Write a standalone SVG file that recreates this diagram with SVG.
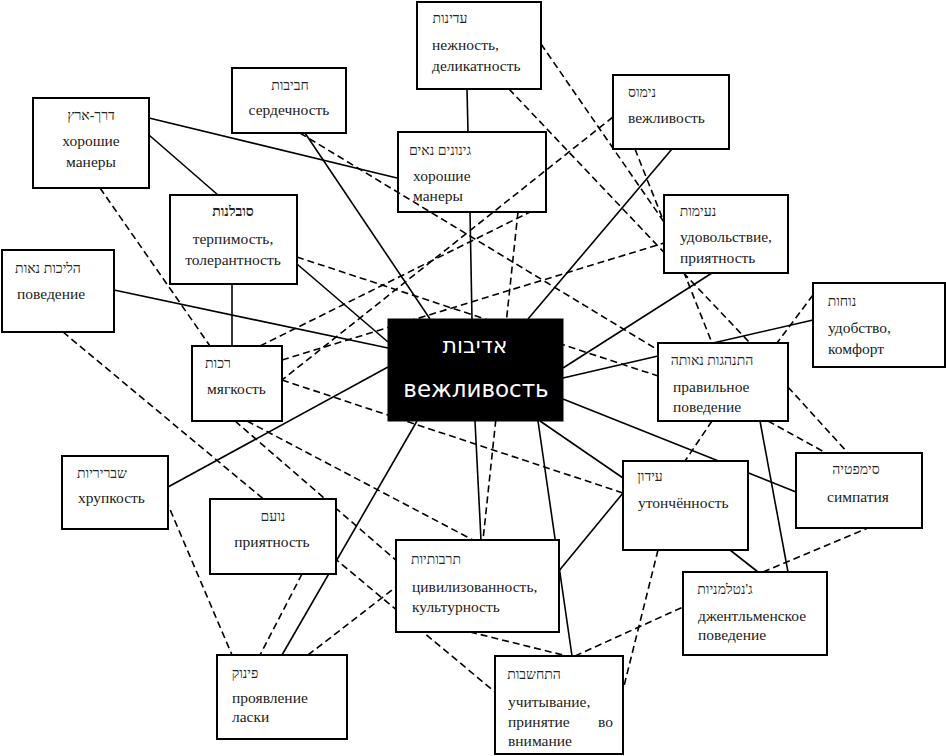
<svg xmlns="http://www.w3.org/2000/svg" width="946" height="756" viewBox="0 0 946 756">
<style>
.box{fill:#fff;stroke:#000;stroke-width:2}
.open{fill:none;stroke:#000;stroke-width:2}
.core{fill:#000;stroke:#000;stroke-width:1}
.s{stroke:#000;stroke-width:1.6;fill:none}
.d{stroke:#000;stroke-width:1.6;fill:none;stroke-dasharray:7 4}
.ru{font-family:"Liberation Serif","Times New Roman",serif;font-size:15.5px;fill:#222}
.he{font-family:"Liberation Serif","DejaVu Serif",serif;font-size:14px;fill:#222;text-anchor:middle}
.m{text-anchor:middle}
.wt{font-family:"DejaVu Sans","Liberation Sans",sans-serif;fill:#fff;text-anchor:middle}
</style>
<rect width="946" height="756" fill="#fff"/>
<g id="connectors">
<path class="s" d="M149,118 L397,178"/>
<path class="s" d="M149,135 L218,195"/>
<path class="s" d="M305,133 L430,319"/>
<path class="s" d="M467,89 L468,132"/>
<path class="s" d="M470,212 L472,319"/>
<path class="s" d="M672,149 L528,319"/>
<path class="s" d="M712,273 L563,368"/>
<path class="s" d="M297,264 L388,342"/>
<path class="s" d="M232,284 L232,346"/>
<path class="s" d="M114,290 L388,348"/>
<path class="s" d="M168,487 L388,367"/>
<path class="s" d="M282,655 L417,421"/>
<path class="s" d="M475,421 L481,540"/>
<path class="s" d="M538,421 L572,656"/>
<path class="s" d="M540,421 L623,478"/>
<path class="s" d="M563,399 L796,492"/>
<path class="s" d="M563,378 L658,356"/>
<path class="s" d="M813,320 L713,343"/>
<path class="s" d="M760,421 L788,572"/>
<path class="s" d="M730,550 L758,572"/>
<path class="s" d="M558,572 L623,493"/>
<path class="d" d="M100,188 L210,346"/>
<path class="d" d="M63,332 L495,692"/>
<path class="d" d="M166,500 L232,655"/>
<path class="d" d="M302,574 L260,655"/>
<path class="d" d="M308,655 L396,587"/>
<path class="d" d="M300,133 L658,350"/>
<path class="d" d="M541,44 L664,222"/>
<path class="d" d="M509,89 L750,343"/>
<path class="d" d="M635,149 L712,343"/>
<path class="d" d="M613,117 L282,380"/>
<path class="d" d="M282,360 L664,243"/>
<path class="d" d="M260,346 L530,212"/>
<path class="d" d="M282,380 L623,493"/>
<path class="d" d="M247,421 L473,540"/>
<path class="d" d="M235,421 L405,568"/>
<path class="d" d="M518,212 L483,540"/>
<path class="d" d="M297,257 L658,376"/>
<path class="d" d="M470,632 L567,656"/>
<path class="d" d="M575,656 L683,607"/>
<path class="d" d="M658,550 L623,690"/>
<path class="d" d="M763,572 L868,528"/>
<path class="d" d="M813,295 L777,343"/>
<path class="d" d="M788,387 L848,453"/>
<path class="d" d="M768,421 L826,453"/>
<path class="d" d="M712,421 L685,461"/>
</g>
<g id="n-derech-eretz"><rect class="box" x="33" y="98" width="116" height="90"/>
<text class="he" x="91" y="120">דרך-ארץ</text>
<text class="ru m" x="91" y="146">хорошие</text><text class="ru m" x="91" y="167">манеры</text></g>
<g id="n-haviviut"><rect class="box" x="232" y="68" width="114" height="65"/>
<text class="he" x="290" y="90">חביבות</text>
<text class="ru m" x="289" y="115">сердечность</text></g>
<g id="n-adinut"><rect class="box" x="417" y="2" width="124" height="87"/>
<text class="he" x="450" y="23">עדינות</text>
<text class="ru" x="432" y="50">нежность,</text><text class="ru" x="432" y="71">деликатность</text></g>
<g id="n-nimus"><rect class="box" x="613" y="75" width="116" height="74"/>
<text class="he" x="642" y="97">נימוס</text>
<text class="ru" x="628" y="123">вежливость</text></g>
<g id="n-ginunim"><rect class="open" x="398" y="132" width="148" height="80"/>
<text class="he" x="440" y="155">גינונים נאים</text>
<text class="ru" x="413" y="181">хорошие</text><text class="ru" x="413" y="201">манеры</text></g>
<g id="n-sovlanut"><rect class="box" x="170" y="195" width="127" height="89"/>
<text class="he" x="233" y="216" font-weight="bold">סובלנות</text>
<text class="ru m" x="233" y="244">терпимость,</text><text class="ru m" x="233" y="265">толерантность</text></g>
<g id="n-neimut"><rect class="box" x="664" y="195" width="124" height="78"/>
<text class="he" x="698" y="216">נעימות</text>
<text class="ru" x="680" y="242">удовольствие,</text><text class="ru" x="680" y="263">приятность</text></g>
<g id="n-halichot"><rect class="box" x="2" y="250" width="112" height="82"/>
<text class="he" x="48" y="273">הליכות נאות</text>
<text class="ru" x="17" y="299">поведение</text></g>
<g id="n-nohut"><rect class="box" x="813" y="283" width="132" height="84"/>
<text class="he" x="842" y="306">נוחות</text>
<text class="ru" x="828" y="333">удобство,</text><text class="ru" x="828" y="354">комфорт</text></g>
<g id="n-adivut"><rect class="core" x="388" y="319" width="175" height="102"/>
<text class="wt" x="475" y="353" font-size="22">אדיבות</text>
<text class="wt" x="476" y="397" font-size="23">вежливость</text></g>
<g id="n-rakut"><rect class="box" x="192" y="346" width="90" height="75"/>
<text class="he" x="218" y="368">רכות</text>
<text class="ru" x="207" y="394">мягкость</text></g>
<g id="n-hitnahagut"><rect class="box" x="658" y="343" width="130" height="78"/>
<text class="he" x="712" y="365">התנהגות נאותה</text>
<text class="ru" x="673" y="392">правильное</text><text class="ru" x="673" y="412">поведение</text></g>
<g id="n-shvririut"><rect class="box" x="62" y="456" width="106" height="73"/>
<text class="he" x="102" y="478">שבריריות</text>
<text class="ru" x="78" y="503">хрупкость</text></g>
<g id="n-simpatia"><rect class="box" x="796" y="453" width="126" height="75"/>
<text class="he" x="856" y="474">סימפטיה</text>
<text class="ru m" x="858" y="502">симпатия</text></g>
<g id="n-idun"><rect class="box" x="623" y="461" width="125" height="89"/>
<text class="he" x="650" y="481">עידון</text>
<text class="ru" x="638" y="508">утончённость</text></g>
<g id="n-noam"><rect class="box" x="210" y="499" width="126" height="75"/>
<text class="he" x="273" y="521">נועם</text>
<text class="ru m" x="272" y="547">приятность</text></g>
<g id="n-tarbutiut"><rect class="box" x="396" y="540" width="163" height="92"/>
<text class="he" x="436" y="564">תרבותיות</text>
<text class="ru" x="412" y="592">цивилизованность,</text><text class="ru" x="412" y="612">культурность</text></g>
<g id="n-gentlemaniut"><rect class="box" x="683" y="572" width="144" height="83"/>
<text class="he" x="725" y="594">ג'נטלמניות</text>
<text class="ru" x="698" y="621">джентльменское</text><text class="ru" x="698" y="640">поведение</text></g>
<g id="n-pinuk"><rect class="box" x="217" y="655" width="130" height="84"/>
<text class="he" x="245" y="678">פינוק</text>
<text class="ru" x="232" y="703">проявление</text><text class="ru" x="232" y="722">ласки</text></g>
<g id="n-hitchashvut"><rect class="box" x="495" y="656" width="128" height="98"/>
<text class="he" x="534" y="679">התחשבות</text>
<text class="ru" x="508" y="707">учитывание,</text>
<text class="ru" y="727"><tspan x="508">принятие</tspan><tspan x="598">во</tspan></text>
<text class="ru" x="508" y="746">внимание</text></g>
</svg>
